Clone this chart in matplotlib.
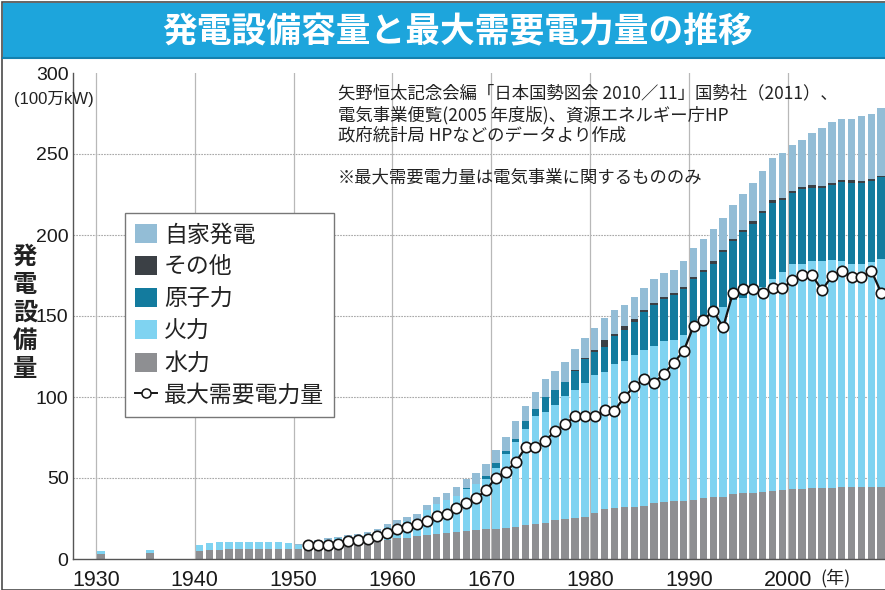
import matplotlib
matplotlib.use('Agg')
import matplotlib.pyplot as plt
from matplotlib import font_manager
from matplotlib.patches import Rectangle, Patch
from matplotlib.lines import Line2D
import numpy as np

# ---------------- data ----------------
years = [1930, 1935,
         1940, 1941, 1942, 1943, 1944, 1945, 1946, 1947, 1948, 1949,
         1950, 1951, 1952, 1953, 1954, 1955, 1956, 1957, 1958, 1959,
         1960, 1961, 1962, 1963, 1964, 1965, 1966, 1967, 1968, 1969,
         1970, 1971, 1972, 1973, 1974, 1975, 1976, 1977, 1978, 1979,
         1980, 1981, 1982, 1983, 1984, 1985, 1986, 1987, 1988, 1989,
         1990, 1991, 1992, 1993, 1994, 1995, 1996, 1997, 1998, 1999,
         2000, 2001, 2002, 2003, 2004, 2005, 2006, 2007, 2008, 2009]

hydro = [3.0, 3.7,
         5.0, 5.5, 5.8, 5.9, 5.9, 5.9, 6.0, 6.0, 6.0, 6.0,
         6.0, 6.5, 7.0, 7.5, 8.3, 9.0, 9.5, 10.0, 11.0, 12.0,
         12.8, 13.2, 14.0, 14.6, 15.3, 16.0, 16.5, 17.3, 17.8, 18.4,
         18.8, 19.0, 19.6, 20.8, 21.9, 22.5, 24.0, 24.6, 25.4, 26.0,
         28.7, 30.7, 31.2, 31.8, 32.2, 32.8, 34.3, 34.9, 35.9, 35.9,
         36.3, 37.4, 38.0, 38.4, 40.0, 40.5, 41.0, 41.5, 42.0, 42.5,
         43.0, 43.5, 43.8, 44.0, 44.0, 44.2, 44.2, 44.5, 44.5, 44.3]

thermal = [2.0, 1.8,
           3.7, 4.1, 4.5, 4.6, 4.5, 4.5, 4.3, 4.3, 4.3, 3.8,
           2.5, 3.1, 4.2, 4.3, 4.5, 4.8, 4.7, 5.2, 5.7, 7.5,
           8.7, 10.1, 11.0, 15.4, 18.7, 20.2, 22.5, 26.2, 28.5, 30.9,
           37.2, 46.0, 52.4, 59.5, 66.1, 68.1, 71.0, 76.0, 79.0, 82.5,
           84.8, 84.7, 89.3, 90.2, 93.5, 96.0, 97.0, 99.7, 99.5, 102.2,
           103.8, 107.9, 112.5, 117.2, 119.8, 120.5, 123.0, 126.5, 131.0, 134.5,
           138.8, 138.9, 140.1, 139.9, 140.5, 139.7, 138.2, 137.3, 139.0, 140.7]

nuclear = [0, 0,
           0, 0, 0, 0, 0, 0, 0, 0, 0, 0,
           0, 0, 0, 0, 0, 0, 0, 0, 0, 0,
           0, 0, 0, 0, 0, 0, 0, 0.2, 0.3, 2.1,
           3.1, 1.8, 2.1, 4.7, 4.5, 9.3, 9.2, 8.4, 11.9, 15.0,
           14.5, 15.4, 17.2, 19.2, 20.6, 23.7, 25.7, 26.2, 27.6, 28.5,
           32.7, 32.0, 31.5, 33.9, 36.2, 40.8, 43.0, 45.8, 47.0, 44.9,
           44.2, 45.9, 45.4, 45.0, 46.5, 48.7, 50.0, 50.4, 49.9, 50.5]

other = [0, 0,
         0, 0, 0, 0, 0, 0, 0, 0, 0, 0,
         0, 0, 0, 0, 0, 0, 0, 0, 0, 0,
         0, 0, 0, 0, 0, 0, 0, 0, 0, 0,
         0, 0, 0, 0, 0, 0, 0, 0, 0.5, 0.5,
         1.0, 4.2, 1.4, 2.5, 2.1, 1.5, 1.1, 1.0, 0.9, 1.0,
         1.0, 1.4, 2.0, 1.4, 1.6, 1.3, 1.7, 1.3, 1.3, 1.2,
         1.4, 1.4, 1.5, 1.4, 1.4, 1.5, 1.6, 1.2, 1.3, 1.0]

selfgen = [0, 0,
           0, 0, 0, 0, 0, 0, 0, 0, 0, 0,
           0.5, 0.6, 0.8, 1.0, 1.0, 1.2, 1.3, 1.5, 1.7, 2.0,
           2.5, 2.7, 3.0, 3.5, 4.0, 4.5, 5.2, 5.6, 6.2, 7.2,
           8.4, 8.8, 10.9, 9.7, 10.7, 11.1, 11.6, 12.8, 13.0, 12.4,
           13.8, 14.0, 14.5, 13.0, 13.4, 13.0, 14.5, 14.9, 14.8, 16.5,
           17.9, 18.9, 19.6, 19.6, 21.2, 21.9, 23.3, 24.5, 26.2, 27.5,
           28.3, 29.1, 32.2, 35.7, 37.4, 37.7, 37.8, 39.9, 40.0, 41.9]

demand_years = [1951, 1952, 1953, 1954, 1955, 1956, 1957, 1958, 1959,
                1960, 1961, 1962, 1963, 1964, 1965, 1966, 1967, 1968, 1969,
                1970, 1971, 1972, 1973, 1974, 1975, 1976, 1977, 1978, 1979,
                1980, 1981, 1982, 1983, 1984, 1985, 1986, 1987, 1988, 1989,
                1990, 1991, 1992, 1993, 1994, 1995, 1996, 1997, 1998, 1999,
                2000, 2001, 2002, 2003, 2004, 2005, 2006, 2007, 2008, 2009]
demand = [8.5, 8.5, 8.5, 9.2, 11.0, 11.7, 12.3, 14.0, 15.8,
          18.3, 19.8, 21.4, 23.5, 26.3, 27.9, 31.3, 34.6, 37.7, 42.4,
          50.3, 54.0, 59.7, 68.9, 69.1, 72.7, 79.3, 83.2, 88.1, 88.3,
          88.1, 92.0, 91.6, 99.9, 106.5, 111.2, 108.8, 114.3, 121.2, 128.4,
          143.7, 147.8, 152.9, 143.2, 164.5, 166.5, 166.4, 164.5, 167.0, 167.0,
          172.1, 175.6, 175.2, 165.9, 174.6, 177.9, 174.2, 174.2, 177.9, 164.3]

xtick_pos = [1930, 1940, 1950, 1960, 1970, 1980, 1990, 2000]
xtick_labels = ['1930', '1940', '1950', '1960', '1670', '1980', '1990', '2000']
ytick_pos = [0, 50, 100, 150, 200, 250, 300]
ytick_labels = ['0', '50', '100', '150', '200', '250', '300']
hgrid_vals = [50, 100, 150, 200, 250]

series_labels = ['自家発電', 'その他', '原子力', '火力', '水力']
line_label = '最大需要電力量'
title = '発電設備容量と最大需要電力量の推移'
ylabel_chars = ['発', '電', '設', '備', '量']
note_lines = ['矢野恒太記念会編「日本国勢図会 2010／11」国勢社（2011）、',
              '電気事業便覧(2005 年度版)、資源エネルギー庁HP',
              '政府統計局 HPなどのデータより作成']
note2 = '※最大需要電力量は電気事業に関するもののみ'

# ---------------- style ----------------
C_SELF = '#93BDD6'
C_OTHER = '#3B4045'
C_NUC = '#137B9E'
C_THERM = '#7FD3F1'
C_HYDRO = '#8E8F92'
C_BANNER = '#1DA5DC'

CJK = 'Noto Sans CJK JP'


def has_font(name):
    try:
        font_manager.findfont(font_manager.FontProperties(family=name),
                              fallback_to_default=False)
        return True
    except Exception:
        return False


NARROW = has_font('Liberation Sans Narrow')
NUM = 'Liberation Sans Narrow' if NARROW else 'Liberation Sans'
plt.rcParams['font.family'] = [CJK, 'DejaVu Sans']

W, H = 885, 590
fig = plt.figure(figsize=(8.85, 5.9), dpi=100)


def fx(px):
    return px / W


def fy(py):
    return 1 - py / H


# banner and frame
fig.add_artist(Rectangle((fx(2), 0), 1, fy(2), transform=fig.transFigure,
                         fill=False, edgecolor='#4a4a4a', lw=1.2, zorder=0))
fig.add_artist(Rectangle((fx(3), fy(58)), 1, (58 - 3) / H, transform=fig.transFigure,
                         facecolor=C_BANNER, edgecolor='none', zorder=1))
fig.add_artist(Line2D([fx(3), 1], [fy(58), fy(58)], transform=fig.transFigure,
                      color='#1380AE', lw=1.5, zorder=2))
fig.text(fx(458), fy(32), title, color='white', fontsize=25, fontweight='bold',
         ha='center', va='center', zorder=3)

# axes
ax = fig.add_axes([fx(72.7), fy(559), 1 - fx(72.7), (559 - 73) / H])
ax.set_facecolor('none')

x = np.array(years) + 0.48
bw = 0.76
hyd = np.array(hydro)
th = np.array(thermal)
nu = np.array(nuclear)
ot = np.array(other)
sg = np.array(selfgen)

ax.bar(x, hyd, width=bw, color=C_HYDRO, zorder=2, lw=0)
ax.bar(x, th, width=bw, bottom=hyd, color=C_THERM, zorder=2, lw=0)
ax.bar(x, nu, width=bw, bottom=hyd + th, color=C_NUC, zorder=2, lw=0)
ax.bar(x, ot, width=bw, bottom=hyd + th + nu, color=C_OTHER, zorder=2, lw=0)
ax.bar(x, sg, width=bw, bottom=hyd + th + nu + ot, color=C_SELF, zorder=2, lw=0)

ax.plot(np.array(demand_years) + 0.48, demand, color='#151515', lw=1.6,
        marker='o', ms=7.5, mfc='white', mec='#151515', mew=1.2, zorder=5)

ax.set_xlim(1927.64, 2009.86)
ax.set_ylim(0, 300)

ax.set_xticks(xtick_pos)
ax.set_xticklabels(xtick_labels, family=[NUM, 'DejaVu Sans'],
                   fontsize=(17.5 if NARROW else 15.5), color='#1a1a1a')
ax.set_yticks(ytick_pos)
ax.set_yticklabels(ytick_labels, family=[NUM, 'DejaVu Sans'],
                   fontsize=(16 if NARROW else 14), color='#1a1a1a')
ax.tick_params(axis='x', length=0, pad=8)
ax.tick_params(axis='y', length=0, pad=3)

ax.xaxis.grid(True, color='#b8b8b8', lw=0.9, zorder=0)
for v in hgrid_vals:
    ax.axhline(v, color='#a8a8a8', lw=0.8, ls=(0, (1.5, 1)), zorder=0.5)
ax.set_axisbelow(True)

for s in ['top', 'right']:
    ax.spines[s].set_visible(False)
for s in ['left', 'bottom']:
    ax.spines[s].set_color('#555555')
    ax.spines[s].set_linewidth(1.0)

# legend
handles = [Patch(facecolor=C_SELF, edgecolor='none'),
           Patch(facecolor=C_OTHER, edgecolor='none'),
           Patch(facecolor=C_NUC, edgecolor='none'),
           Patch(facecolor=C_THERM, edgecolor='none'),
           Patch(facecolor=C_HYDRO, edgecolor='none'),
           Line2D([], [], color='#151515', lw=1.4, marker='o', ms=6.5,
                  mfc='white', mec='#151515', mew=1.1)]
leg = ax.legend(handles, series_labels + [line_label], loc='upper left',
                bbox_to_anchor=(fx(125), fy(213)), bbox_transform=fig.transFigure,
                fontsize=16.5, frameon=True, fancybox=False, edgecolor='#777777',
                framealpha=1, borderpad=0.45, labelspacing=0.4,
                handlelength=0.95, handleheight=0.9, handletextpad=0.3,
                borderaxespad=0)
leg.get_frame().set_linewidth(1.0)
leg.set_zorder(10)
for t in leg.get_texts():
    t.set_color('#222222')

# texts
fig.text(fx(54), fy(99), '(100万kW)', family=[NUM, CJK], fontsize=12,
         ha='center', va='center', color='#222222')
for ch, yc in zip(ylabel_chars, [257, 285, 313, 341, 369]):
    fig.text(fx(25), fy(yc), ch, fontsize=17.5, fontweight='bold', ha='center',
             va='center', color='#222222')
for line, yc in zip(note_lines, [93, 115, 136]):
    fig.text(fx(338), fy(yc), line, fontsize=12.5, ha='left', va='center',
             color='#222222')
fig.text(fx(338), fy(177), note2, fontsize=12.5, ha='left', va='center',
         color='#222222')
fig.text(fx(835), fy(578), '(年)', fontsize=13, ha='center', va='center',
         color='#222222')

fig.savefig('out.png', dpi=100)
